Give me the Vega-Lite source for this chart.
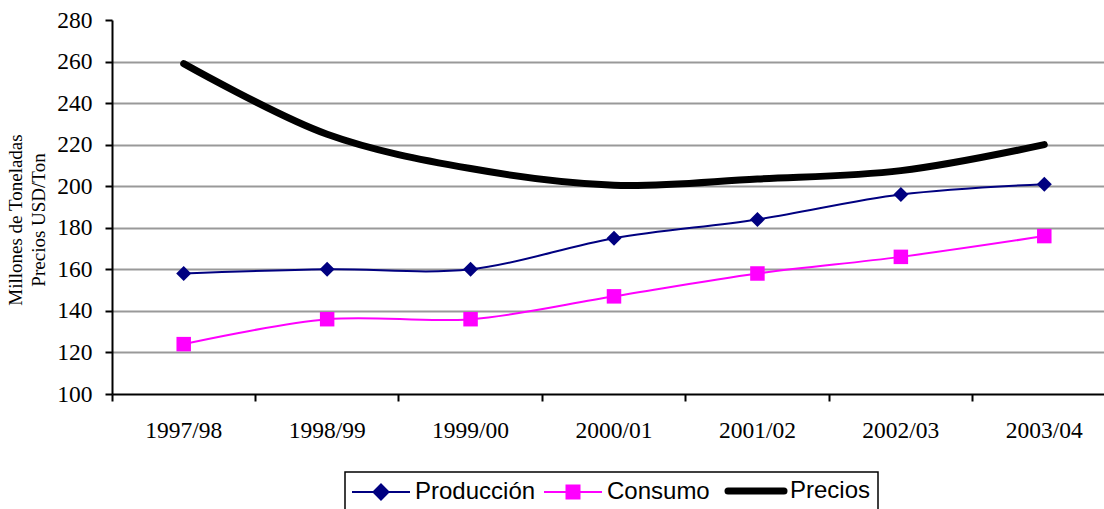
{
  "$schema": "https://vega.github.io/schema/vega-lite/v6.json",
  "width": 992,
  "height": 374,
  "autosize": "none",
  "padding": {"left": 112, "top": 20, "right": 0, "bottom": 115},
  "background": "white",
  "config": {
    "view": {"stroke": null},
    "axis": {
      "labelFont": "Liberation Serif",
      "labelFontSize": 23.5,
      "labelColor": "black",
      "domainColor": "black",
      "domainWidth": 2,
      "tickColor": "black",
      "tickWidth": 2,
      "tickSize": 7
    },
    "legend": {
      "labelFont": "Liberation Sans",
      "labelFontSize": 24,
      "labelColor": "black",
      "symbolSize": 100,
      "symbolStrokeWidth": 2
    }
  },
  "data": {
    "values": [
      {"season": "1997/98", "series": "Producción", "value": 158},
      {"season": "1998/99", "series": "Producción", "value": 160},
      {"season": "1999/00", "series": "Producción", "value": 160},
      {"season": "2000/01", "series": "Producción", "value": 175},
      {"season": "2001/02", "series": "Producción", "value": 184},
      {"season": "2002/03", "series": "Producción", "value": 196},
      {"season": "2003/04", "series": "Producción", "value": 201},
      {"season": "1997/98", "series": "Consumo", "value": 124},
      {"season": "1998/99", "series": "Consumo", "value": 136},
      {"season": "1999/00", "series": "Consumo", "value": 136},
      {"season": "2000/01", "series": "Consumo", "value": 147},
      {"season": "2001/02", "series": "Consumo", "value": 158},
      {"season": "2002/03", "series": "Consumo", "value": 166},
      {"season": "2003/04", "series": "Consumo", "value": 176},
      {"season": "1997/98", "series": "Precios", "value": 259},
      {"season": "1998/99", "series": "Precios", "value": 225},
      {"season": "1999/00", "series": "Precios", "value": 208.5},
      {"season": "2000/01", "series": "Precios", "value": 200.5},
      {"season": "2001/02", "series": "Precios", "value": 203.5},
      {"season": "2002/03", "series": "Precios", "value": 207.5},
      {"season": "2003/04", "series": "Precios", "value": 220}
    ]
  },
  "encoding": {
    "x": {
      "field": "season",
      "type": "nominal",
      "sort": null,
      "scale": {"type": "band", "range": [0, 1004], "paddingInner": 0, "paddingOuter": 0},
      "axis": {
        "title": null,
        "labelAngle": 0,
        "bandPosition": 0,
        "labelPadding": 17,
        "grid": false
      }
    },
    "y": {
      "field": "value",
      "type": "quantitative",
      "scale": {"domain": [100, 280], "nice": false, "zero": false},
      "axis": {
        "values": [100, 120, 140, 160, 180, 200, 220, 240, 260, 280],
        "grid": true,
        "gridColor": {"condition": {"test": "datum.value === 280 || datum.value === 100", "value": "transparent"}, "value": "#999999"},
        "gridWidth": 2,
        "labelPadding": 13,
        "title": ["Millones de Toneladas", "Precios USD/Ton"],
        "titleFont": "Liberation Serif",
        "titleFontSize": 19,
        "titleFontWeight": "normal",
        "titleColor": "black",
        "titleLineHeight": 23,
        "titleAngle": -90,
        "titleAlign": "center",
        "titleBaseline": "middle",
        "titleX": -96.5,
        "titleY": 199.5
      }
    },
    "color": {
      "field": "series",
      "type": "nominal",
      "scale": {"domain": ["Producción", "Consumo", "Precios"], "range": ["#000080", "#FF00FF", "#000000"]},
      "legend": {
        "title": null,
        "orient": "none",
        "legendX": 233,
        "legendY": 452,
        "direction": "horizontal",
        "columns": 3,
        "padding": 7,
        "strokeColor": "black",
        "fillColor": "white",
        "symbolOffset": 17,
        "labelOffset": 22,
        "columnPadding": 4,
        "encode": {
          "legend": {"update": {"strokeWidth": {"value": 1.5}}},
          "symbols": {
            "update": {
              "shape": {"signal": "datum.value === 'Producción' ? 'M-5.8,0H5.8M0,-1.5L1.5,0L0,1.5L-1.5,0Z' : datum.value === 'Consumo' ? 'M-5.8,0H5.8M-1.3,-1.3H1.3V1.3H-1.3Z' : 'M-5.6,0H5.6'"},
              "fill": {"signal": "datum.value === 'Producción' ? '#000080' : datum.value === 'Consumo' ? '#FF00FF' : 'transparent'"},
              "stroke": {"signal": "datum.value === 'Producción' ? '#000080' : datum.value === 'Consumo' ? '#FF00FF' : '#000000'"},
              "strokeWidth": {"signal": "datum.value === 'Precios' ? 7 : 2"},
              "strokeCap": {"signal": "datum.value === 'Precios' ? 'round' : 'butt'"},
              "size": {"value": 100},
              "opacity": {"value": 1}
            }
          }
        }
      }
    }
  },
  "layer": [
    {
      "transform": [{"filter": "datum.series !== 'Precios'"}],
      "mark": {"type": "line", "interpolate": "catmull-rom", "strokeWidth": 2}
    },
    {
      "transform": [{"filter": "datum.series === 'Precios'"}],
      "mark": {"type": "line", "interpolate": "catmull-rom", "strokeWidth": 7, "strokeCap": "round"}
    },
    {
      "transform": [{"filter": "datum.series === 'Producción'"}],
      "mark": {"type": "point", "shape": "diamond", "filled": true, "size": 225, "opacity": 1}
    },
    {
      "transform": [{"filter": "datum.series === 'Consumo'"}],
      "mark": {"type": "point", "shape": "square", "filled": true, "size": 210, "opacity": 1}
    }
  ]
}
